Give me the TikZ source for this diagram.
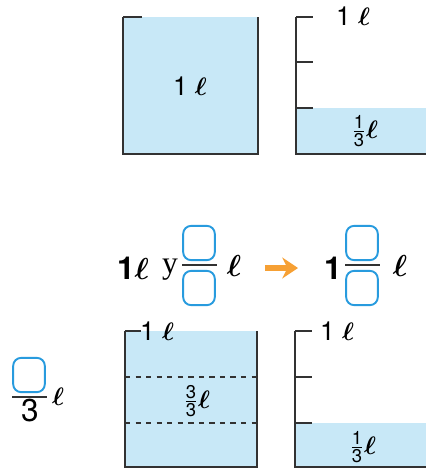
\documentclass[tikz,border=0pt]{standalone}
\usepackage{amsmath}
\usepackage{bm}
\usepackage{fontspec}
\setmainfont{TeX Gyre Heros}
\newfontfamily\yfont{Liberation Serif}
\usepackage{tikz}
\usetikzlibrary{arrows.meta}

\definecolor{water}{RGB}{200,232,247}
\definecolor{wall}{RGB}{50,50,50}
\definecolor{boxblue}{RGB}{40,155,222}
\definecolor{arrorange}{RGB}{246,160,52}

\begin{document}
\begin{tikzpicture}[x=0.02cm,y=-0.02cm,
		wallline/.style={draw=wall, line width=1.2pt},
		tickline/.style={draw=wall, line width=0.6pt},
		barline/.style={draw=wall, line width=1pt},
		lbl/.style={inner sep=0pt, font=\fontsize{15}{17}\selectfont},
		big/.style={inner sep=0pt, font=\fontsize{18}{20}\selectfont\bfseries},
		blank/.style={draw=boxblue, line width=1.1pt, rounded corners=4.5pt, minimum width=18pt, minimum height=19.5pt, inner sep=0pt}]
			\useasboundingbox (0,0) rectangle (426,470);
			
			% top left: full
			\fill[water] (123,17) rectangle (258,154);
			\draw[wallline] (123,17) -- (123,154) -- (258,154) -- (258,17);
			\draw[tickline] (123,17) -- (142,17);
			\node[lbl] (t1) at (190,86) {1 $\bm{\ell}$};
			
			% top right: one third
			\fill[water] (296,108) rectangle (426,154);
			\draw[wallline] (296,17) -- (296,154) -- (426,154);
			\draw[tickline] (296,17) -- (313,17);
			\draw[tickline] (296,62) -- (313,62);
			\draw[tickline] (296,108) -- (313,108);
			\node[lbl] (t2) at (353,16) {1 $\bm{\ell}$};
			\node[lbl] (t3) at (365,131) {$\tfrac{\text{1}}{\text{3}}\bm{\ell}$};
			
			% middle row
			\node[big] (m1) at (133,268) {1$\bm{\ell}$};
			\node[big, font=\fontsize{18}{20}\yfont] (my) at (170,270) {y};
			\node[blank] (b1) at (199,243) {};
			\node[blank] (b2) at (199,288) {};
			\draw[barline] (182,265) -- (217,265);
			\node[big] (m2) at (234,266) {$\bm{\ell}$};
			\coordinate (a1) at (265,268);
			\coordinate (a2) at (298,268);
			\draw[-{Stealth[length=9pt,width=12pt,inset=3pt]}, line width=3pt, arrorange] (a1) -- (a2);
			\node[big] (m3) at (333,268) {1};
			\node[blank] (b3) at (362,243) {};
			\node[blank] (b4) at (362,288) {};
			\draw[barline] (345,265) -- (380,265);
			\node[big] (m4) at (400,266) {$\bm{\ell}$};
			
			% bottom left fraction
			\node[blank] (b5) at (29,375) {};
			\draw[barline] (12,397) -- (47,397);
			\node[big, font=\fontsize{18}{20}\selectfont] (d3) at (30,411) {3};
			\node[lbl] (d4) at (58,397) {$\bm{\ell}$};
			
			% bottom left: three thirds
			\fill[water] (125,331) rectangle (257,467);
			\draw[dashed, tickline] (125,377) -- (257,377);
			\draw[dashed, tickline] (125,423) -- (257,423);
			\draw[wallline] (125,331) -- (125,467) -- (257,467) -- (257,331);
			\draw[tickline] (125,331) -- (141,331);
			\node[lbl] (u1) at (157,331) {1 $\bm{\ell}$};
			\node[lbl] (u2) at (197,401) {$\tfrac{\text{3}}{\text{3}}\bm{\ell}$};
			
			% bottom right: one third
			\fill[water] (295,423) rectangle (426,467);
			\draw[wallline] (295,331) -- (295,467) -- (426,467);
			\draw[tickline] (295,331) -- (312,331);
			\draw[tickline] (295,377) -- (312,377);
			\draw[tickline] (295,423) -- (312,423);
			\node[lbl] (u3) at (337,331) {1 $\bm{\ell}$};
			\node[lbl] (u4) at (363,447) {$\tfrac{\text{1}}{\text{3}}\bm{\ell}$};
		\end{tikzpicture}
\end{document}
